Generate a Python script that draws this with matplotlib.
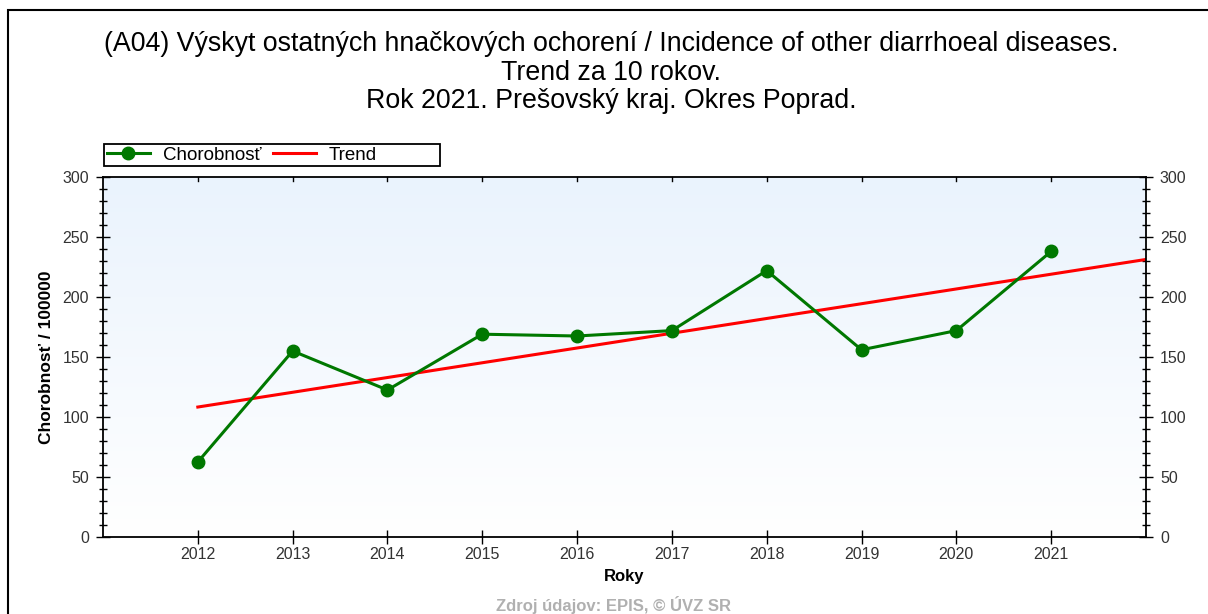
import numpy as np
import matplotlib
matplotlib.use("Agg")
import matplotlib.pyplot as plt
from matplotlib.ticker import MultipleLocator
from matplotlib.colors import LinearSegmentedColormap
from matplotlib.patches import Rectangle

plt.rcParams['font.family'] = ['Liberation Sans', 'DejaVu Sans']

# Údaje
roky = [2012, 2013, 2014, 2015, 2016, 2017, 2018, 2019, 2020, 2021]
chorobnost = [62.5, 155.0, 122.5, 169.0, 167.5, 172.0, 222.0, 156.0, 172.0, 238.0]
trend_roky = [2012, 2022]

# Lineárny trend
k, q = np.polyfit(roky, chorobnost, 1)
trend_hodnoty = [k * r + q for r in trend_roky]

W, H = 1208, 614
fig = plt.figure(figsize=(W / 100, H / 100), dpi=100)
ax = fig.add_axes([103 / W, 1 - 537 / H, (1146 - 103) / W, (537 - 177) / H])

# Rámik okolo obrázka
fig.patches.append(Rectangle((8 / W, -0.1), 1.2, 1.1 - 10 / H, transform=fig.transFigure,
                             fill=False, edgecolor='black', linewidth=1.5))

# Pozadie s prechodom
cmap = LinearSegmentedColormap.from_list('bg', ['#ffffff', '#eaf3fd'])
ax.imshow(np.linspace(0, 1, 256).reshape(-1, 1), cmap=cmap, origin='lower',
          extent=[2011, 2022, 0, 300], aspect='auto', zorder=0)

ax.plot(roky, chorobnost, color='#007800', linewidth=2.2, marker='o', markersize=9,
        label='Chorobnosť', zorder=3)
ax.plot(trend_roky, trend_hodnoty, color='#ff0000', linewidth=2.2, label='Trend', zorder=2)

ax.set_xlim(2011, 2022)
ax.set_ylim(0, 300)
ax.set_xticks(roky)
ax.yaxis.set_major_locator(MultipleLocator(50))
ax.yaxis.set_minor_locator(MultipleLocator(10))
ax.tick_params(axis='y', which='major', direction='inout', length=10, width=1,
               labelsize=11.5, labelcolor='#333333', left=True, right=True,
               labelleft=True, labelright=True, pad=5)
ax.tick_params(axis='y', which='minor', direction='inout', length=6, width=1,
               left=True, right=True)
ax.tick_params(axis='x', which='major', direction='inout', length=10, width=1,
               labelsize=11.5, labelcolor='#333333', top=False, pad=2)
for r in roky:
    ax.plot([r, r], [300, 297], color='black', linewidth=1, clip_on=False, zorder=4)
for s in ax.spines.values():
    s.set_linewidth(1.3)

ax.set_xlabel('Roky', fontsize=12, fontweight='bold', labelpad=5)
ax.set_ylabel('Chorobnosť / 100000', fontsize=12.5, fontweight='bold', labelpad=6)

fig.text(0.506, 1 - 31 / H, '(A04) Výskyt ostatných hnačkových ochorení / Incidence of other diarrhoeal diseases.\n'
         'Trend za 10 rokov.\nRok 2021. Prešovský kraj. Okres Poprad.',
         ha='center', va='top', fontsize=19.3, linespacing=1.13)
fig.text(0.508, 1 - 605 / H, 'Zdroj údajov: EPIS, © ÚVZ SR', ha='center', va='center',
         fontsize=12, fontweight='bold', color='#b0b0b0')

# Legenda s vlastným rámikom
fig.patches.append(Rectangle((104 / W, 1 - 166 / H), (440 - 104) / W, 22 / H,
                             transform=fig.transFigure, fill=False, edgecolor='black',
                             linewidth=1.3))
fig.legend(*ax.get_legend_handles_labels(), loc='center left',
           bbox_to_anchor=(104 / W, 1 - 155 / H), ncol=2, frameon=False,
           fontsize=13.5, handlelength=2.3, borderpad=0.0, columnspacing=0.6,
           handletextpad=0.7, borderaxespad=0.15)

fig.savefig('out.png', dpi=100)
